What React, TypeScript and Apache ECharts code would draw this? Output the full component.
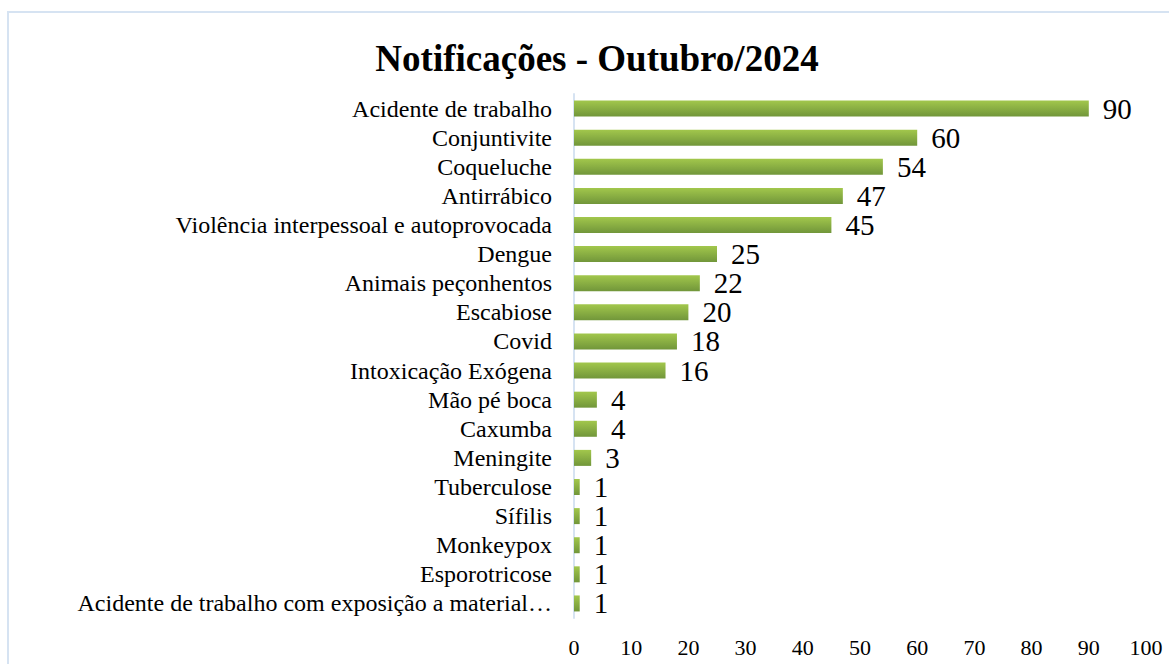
import React, { useEffect, useRef } from "react";
import * as echarts from "echarts";

const categories = [
  "Acidente de trabalho",
  "Conjuntivite",
  "Coqueluche",
  "Antirrábico",
  "Violência interpessoal e autoprovocada",
  "Dengue",
  "Animais peçonhentos",
  "Escabiose",
  "Covid",
  "Intoxicação Exógena",
  "Mão pé boca",
  "Caxumba",
  "Meningite",
  "Tuberculose",
  "Sífilis",
  "Monkeypox",
  "Esporotricose",
  "Acidente de trabalho com exposição a material…",
];
const values = [90, 60, 54, 47, 45, 25, 22, 20, 18, 16, 4, 4, 3, 1, 1, 1, 1, 1];
const titleText = "Notificações - Outubro/2024";

const serif = "'Liberation Serif', 'Times New Roman', serif";

export default function App() {
  const ref = useRef<HTMLDivElement>(null);
  useEffect(() => {
    if (!ref.current) return;
    const chart = echarts.init(ref.current, undefined, { renderer: "svg" });
    chart.setOption({
      animation: false,
      backgroundColor: "#ffffff",
      title: {
        text: titleText,
        left: 592,
        textAlign: "center",
        top: 35,
        textStyle: { fontFamily: serif, fontSize: 37, fontWeight: "bold", color: "#000" },
      },
      graphic: [
        {
          type: "rect",
          shape: { x: 8, y: 12, width: 1200, height: 700 },
          style: { fill: "none", stroke: "#d6e3f2", lineWidth: 2 },
          silent: true,
        },
      ],
      grid: { left: 574, right: 23, top: 94, bottom: 46 },
      xAxis: {
        type: "value",
        min: 0,
        max: 100,
        interval: 10,
        axisLine: { show: false },
        axisTick: { show: false },
        splitLine: { show: false },
        axisLabel: { fontFamily: serif, fontSize: 22, color: "#000", margin: 18 },
      },
      yAxis: {
        type: "category",
        inverse: true,
        data: categories,
        axisLine: { show: true, lineStyle: { color: "#d6e3f2", width: 2 } },
        axisTick: { show: false },
        axisLabel: { interval: 0, fontFamily: serif, fontSize: 24, color: "#000", margin: 22 },
      },
      series: [
        {
          type: "bar",
          data: values,
          barWidth: 16,
          itemStyle: {
            color: new echarts.graphic.LinearGradient(0, 0, 0, 1, [
              { offset: 0, color: "#a2c74c" },
              { offset: 1, color: "#71963a" },
            ]),
          },
          label: {
            show: true,
            position: "right",
            distance: 14,
            fontFamily: serif,
            fontSize: 29,
            color: "#000",
          },
        },
      ],
    });
    return () => chart.dispose();
  }, []);
  return (
    <div
      ref={ref}
      style={{ position: "fixed", left: 0, top: 0, width: 1169, height: 664 }}
    />
  );
}
